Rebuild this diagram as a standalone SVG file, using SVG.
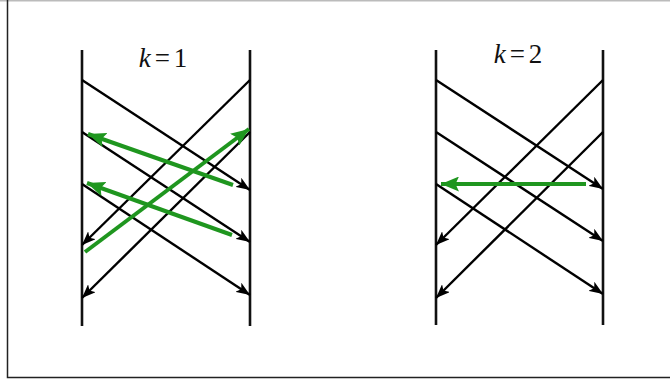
<svg xmlns="http://www.w3.org/2000/svg" width="670" height="381" viewBox="0 0 670 381">
<style>
.frame{fill:none;stroke:#222;stroke-width:1.5}
.top{stroke:#bbb;stroke-width:1.5}
.axis{stroke:#111;stroke-width:2.6}
.blk{stroke:#000;stroke-width:2.4;fill:none}
.grn{stroke:#1f961f;stroke-width:4;fill:none}
.lbl{font-family:"Liberation Serif","Times New Roman",serif;font-size:27px;fill:#111}
</style>
<defs>
<marker id="ab" viewBox="0 0 14 11" refX="14" refY="5.5" markerWidth="14" markerHeight="11" markerUnits="userSpaceOnUse" orient="auto">
<path d="M0,0 L14,5.5 L0,11 L3.5,5.5 Z" fill="#000"/>
</marker>
<marker id="ag" viewBox="0 0 18 15" refX="18" refY="7.5" markerWidth="18" markerHeight="15" markerUnits="userSpaceOnUse" orient="auto">
<path d="M0,0 L18,7.5 L0,15 L3.5,7.5 Z" fill="#1f961f"/>
</marker>
</defs>
<rect width="670" height="381" fill="#fff"/>
<line class="top" x1="0" y1="0.75" x2="670" y2="0.75"/>
<polyline class="frame" points="7.5,0 7.5,377.5 670,377.5"/>
<g id="panel-k1">
<line class="axis" x1="82" y1="50" x2="82" y2="326"/>
<line class="axis" x1="250" y1="50" x2="250" y2="326"/>
<text class="lbl" x="163" y="67" text-anchor="middle"><tspan font-style="italic">k</tspan><tspan dx="4">=</tspan><tspan dx="4">1</tspan></text>
</g>
<g id="panel-k2">
<line class="axis" x1="436" y1="50" x2="436" y2="325"/>
<line class="axis" x1="603" y1="50" x2="603" y2="325"/>
<text class="lbl" x="518" y="63" text-anchor="middle"><tspan font-style="italic">k</tspan><tspan dx="4">=</tspan><tspan dx="4">2</tspan></text>
</g>
<g id="connectors">
<line class="blk" x1="82" y1="80" x2="250" y2="190" marker-end="url(#ab)"/>
<line class="blk" x1="82" y1="132" x2="250" y2="242" marker-end="url(#ab)"/>
<line class="blk" x1="82" y1="184" x2="250" y2="295" marker-end="url(#ab)"/>
<line class="blk" x1="250" y1="80" x2="82" y2="245" marker-end="url(#ab)"/>
<line class="blk" x1="250" y1="132" x2="82" y2="298" marker-end="url(#ab)"/>
<line class="grn" x1="233" y1="185" x2="88" y2="134" marker-end="url(#ag)"/>
<line class="grn" x1="232" y1="235" x2="87" y2="183" marker-end="url(#ag)"/>
<line class="grn" x1="85" y1="252" x2="249" y2="129" marker-end="url(#ag)"/>
<line class="blk" x1="436" y1="80" x2="603" y2="189" marker-end="url(#ab)"/>
<line class="blk" x1="436" y1="132" x2="603" y2="241" marker-end="url(#ab)"/>
<line class="blk" x1="436" y1="184" x2="603" y2="294" marker-end="url(#ab)"/>
<line class="blk" x1="603" y1="80" x2="436" y2="245" marker-end="url(#ab)"/>
<line class="blk" x1="603" y1="132" x2="436" y2="298" marker-end="url(#ab)"/>
<line class="grn" x1="586" y1="184" x2="441" y2="184" marker-end="url(#ag)"/>
</g>
</svg>
